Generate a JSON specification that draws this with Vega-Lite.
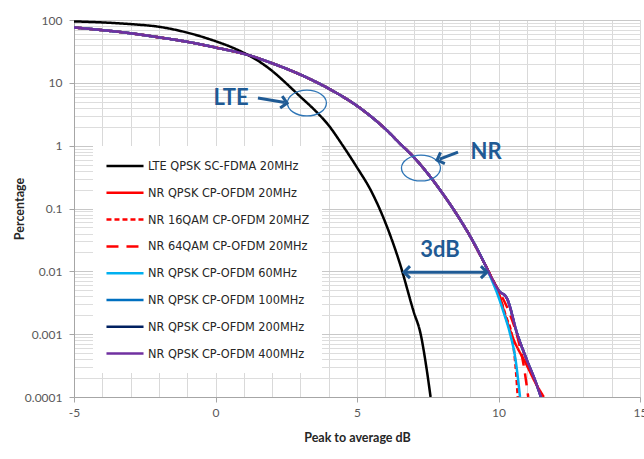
{
  "$schema": "https://vega.github.io/schema/vega-lite/v6.json",
  "autosize": "none",
  "width": 566,
  "height": 377,
  "padding": {"left": 74, "top": 20, "right": 4, "bottom": 62},
  "background": "white",
  "config": {
    "view": {"stroke": null},
    "font": "Lato",
    "axis": {"labelFont": "Lato", "titleFont": "Lato", "labelColor": "#595959", "titleColor": "#262626", "labelFontSize": 12, "titleFontSize": 12.5, "titleFontWeight": "bold", "domainColor": "#a6a6a6", "tickColor": "#a6a6a6", "labelOverlap": false}
  },
  "datasets": {
    "curves": [
      {"series": "NR QPSK CP-OFDM 200MHz", "x": -5, "y": 76}, {"series": "NR QPSK CP-OFDM 200MHz", "x": -4, "y": 69}, {"series": "NR QPSK CP-OFDM 200MHz", "x": -3, "y": 61.5}, {"series": "NR QPSK CP-OFDM 200MHz", "x": -2, "y": 53}, {"series": "NR QPSK CP-OFDM 200MHz", "x": -1, "y": 45}, {"series": "NR QPSK CP-OFDM 200MHz", "x": 0, "y": 36.5}, {"series": "NR QPSK CP-OFDM 200MHz", "x": 1, "y": 29}, {"series": "NR QPSK CP-OFDM 200MHz", "x": 2, "y": 20.5}, {"series": "NR QPSK CP-OFDM 200MHz", "x": 3, "y": 13.5}, {"series": "NR QPSK CP-OFDM 200MHz", "x": 4, "y": 8.1}, {"series": "NR QPSK CP-OFDM 200MHz", "x": 5, "y": 4.3}, {"series": "NR QPSK CP-OFDM 200MHz", "x": 5.5, "y": 2.9}, {"series": "NR QPSK CP-OFDM 200MHz", "x": 6, "y": 1.85}, {"series": "NR QPSK CP-OFDM 200MHz", "x": 6.5, "y": 1.1}, {"series": "NR QPSK CP-OFDM 200MHz", "x": 7, "y": 0.66}, {"series": "NR QPSK CP-OFDM 200MHz", "x": 7.5, "y": 0.36}, {"series": "NR QPSK CP-OFDM 200MHz", "x": 8, "y": 0.18}, {"series": "NR QPSK CP-OFDM 200MHz", "x": 8.5, "y": 0.084}, {"series": "NR QPSK CP-OFDM 200MHz", "x": 9, "y": 0.036}, {"series": "NR QPSK CP-OFDM 200MHz", "x": 9.5, "y": 0.0135}, {"series": "NR QPSK CP-OFDM 200MHz", "x": 9.8, "y": 0.0072}, {"series": "NR QPSK CP-OFDM 200MHz", "x": 10, "y": 0.005}, {"series": "NR QPSK CP-OFDM 200MHz", "x": 10.3, "y": 0.0037}, {"series": "NR QPSK CP-OFDM 200MHz", "x": 10.65, "y": 0.00105}, {"series": "NR QPSK CP-OFDM 200MHz", "x": 11, "y": 0.00039}, {"series": "NR QPSK CP-OFDM 200MHz", "x": 11.3, "y": 0.00018}, {"series": "NR QPSK CP-OFDM 200MHz", "x": 11.5, "y": 0.0001},

      {"series": "NR QPSK CP-OFDM 100MHz", "x": -5, "y": 76}, {"series": "NR QPSK CP-OFDM 100MHz", "x": -4, "y": 69}, {"series": "NR QPSK CP-OFDM 100MHz", "x": -3, "y": 61.5}, {"series": "NR QPSK CP-OFDM 100MHz", "x": -2, "y": 53}, {"series": "NR QPSK CP-OFDM 100MHz", "x": -1, "y": 45}, {"series": "NR QPSK CP-OFDM 100MHz", "x": 0, "y": 36.5}, {"series": "NR QPSK CP-OFDM 100MHz", "x": 1, "y": 29}, {"series": "NR QPSK CP-OFDM 100MHz", "x": 2, "y": 20.5}, {"series": "NR QPSK CP-OFDM 100MHz", "x": 3, "y": 13.5}, {"series": "NR QPSK CP-OFDM 100MHz", "x": 4, "y": 8.1}, {"series": "NR QPSK CP-OFDM 100MHz", "x": 5, "y": 4.3}, {"series": "NR QPSK CP-OFDM 100MHz", "x": 5.5, "y": 2.9}, {"series": "NR QPSK CP-OFDM 100MHz", "x": 6, "y": 1.85}, {"series": "NR QPSK CP-OFDM 100MHz", "x": 6.5, "y": 1.1}, {"series": "NR QPSK CP-OFDM 100MHz", "x": 7, "y": 0.66}, {"series": "NR QPSK CP-OFDM 100MHz", "x": 7.5, "y": 0.36}, {"series": "NR QPSK CP-OFDM 100MHz", "x": 8, "y": 0.18}, {"series": "NR QPSK CP-OFDM 100MHz", "x": 8.5, "y": 0.084}, {"series": "NR QPSK CP-OFDM 100MHz", "x": 9, "y": 0.036}, {"series": "NR QPSK CP-OFDM 100MHz", "x": 9.5, "y": 0.0135}, {"series": "NR QPSK CP-OFDM 100MHz", "x": 9.8, "y": 0.0072}, {"series": "NR QPSK CP-OFDM 100MHz", "x": 10, "y": 0.005}, {"series": "NR QPSK CP-OFDM 100MHz", "x": 10.3, "y": 0.0037}, {"series": "NR QPSK CP-OFDM 100MHz", "x": 10.65, "y": 0.00105}, {"series": "NR QPSK CP-OFDM 100MHz", "x": 11, "y": 0.00039}, {"series": "NR QPSK CP-OFDM 100MHz", "x": 11.3, "y": 0.00018}, {"series": "NR QPSK CP-OFDM 100MHz", "x": 11.5, "y": 0.0001},

      {"series": "NR 64QAM CP-OFDM 20MHz", "x": -5, "y": 76}, {"series": "NR 64QAM CP-OFDM 20MHz", "x": -4, "y": 69}, {"series": "NR 64QAM CP-OFDM 20MHz", "x": -3, "y": 61.5}, {"series": "NR 64QAM CP-OFDM 20MHz", "x": -2, "y": 53}, {"series": "NR 64QAM CP-OFDM 20MHz", "x": -1, "y": 45}, {"series": "NR 64QAM CP-OFDM 20MHz", "x": 0, "y": 36.5}, {"series": "NR 64QAM CP-OFDM 20MHz", "x": 1, "y": 29}, {"series": "NR 64QAM CP-OFDM 20MHz", "x": 2, "y": 20.5}, {"series": "NR 64QAM CP-OFDM 20MHz", "x": 3, "y": 13.5}, {"series": "NR 64QAM CP-OFDM 20MHz", "x": 4, "y": 8.1}, {"series": "NR 64QAM CP-OFDM 20MHz", "x": 5, "y": 4.3}, {"series": "NR 64QAM CP-OFDM 20MHz", "x": 5.5, "y": 2.9}, {"series": "NR 64QAM CP-OFDM 20MHz", "x": 6, "y": 1.85}, {"series": "NR 64QAM CP-OFDM 20MHz", "x": 6.5, "y": 1.1}, {"series": "NR 64QAM CP-OFDM 20MHz", "x": 7, "y": 0.66}, {"series": "NR 64QAM CP-OFDM 20MHz", "x": 7.5, "y": 0.36}, {"series": "NR 64QAM CP-OFDM 20MHz", "x": 8, "y": 0.18}, {"series": "NR 64QAM CP-OFDM 20MHz", "x": 8.5, "y": 0.084}, {"series": "NR 64QAM CP-OFDM 20MHz", "x": 9, "y": 0.036}, {"series": "NR 64QAM CP-OFDM 20MHz", "x": 9.5, "y": 0.0135}, {"series": "NR 64QAM CP-OFDM 20MHz", "x": 9.8, "y": 0.0073}, {"series": "NR 64QAM CP-OFDM 20MHz", "x": 10, "y": 0.005}, {"series": "NR 64QAM CP-OFDM 20MHz", "x": 10.4, "y": 0.0021}, {"series": "NR 64QAM CP-OFDM 20MHz", "x": 10.7, "y": 0.0008}, {"series": "NR 64QAM CP-OFDM 20MHz", "x": 10.9, "y": 0.0003}, {"series": "NR 64QAM CP-OFDM 20MHz", "x": 11.05, "y": 0.0001},

      {"series": "NR 16QAM CP-OFDM 20MHZ", "x": -5, "y": 76}, {"series": "NR 16QAM CP-OFDM 20MHZ", "x": -4, "y": 69}, {"series": "NR 16QAM CP-OFDM 20MHZ", "x": -3, "y": 61.5}, {"series": "NR 16QAM CP-OFDM 20MHZ", "x": -2, "y": 53}, {"series": "NR 16QAM CP-OFDM 20MHZ", "x": -1, "y": 45}, {"series": "NR 16QAM CP-OFDM 20MHZ", "x": 0, "y": 36.5}, {"series": "NR 16QAM CP-OFDM 20MHZ", "x": 1, "y": 29}, {"series": "NR 16QAM CP-OFDM 20MHZ", "x": 2, "y": 20.5}, {"series": "NR 16QAM CP-OFDM 20MHZ", "x": 3, "y": 13.5}, {"series": "NR 16QAM CP-OFDM 20MHZ", "x": 4, "y": 8.1}, {"series": "NR 16QAM CP-OFDM 20MHZ", "x": 5, "y": 4.3}, {"series": "NR 16QAM CP-OFDM 20MHZ", "x": 5.5, "y": 2.9}, {"series": "NR 16QAM CP-OFDM 20MHZ", "x": 6, "y": 1.85}, {"series": "NR 16QAM CP-OFDM 20MHZ", "x": 6.5, "y": 1.1}, {"series": "NR 16QAM CP-OFDM 20MHZ", "x": 7, "y": 0.66}, {"series": "NR 16QAM CP-OFDM 20MHZ", "x": 7.5, "y": 0.36}, {"series": "NR 16QAM CP-OFDM 20MHZ", "x": 8, "y": 0.18}, {"series": "NR 16QAM CP-OFDM 20MHZ", "x": 8.5, "y": 0.084}, {"series": "NR 16QAM CP-OFDM 20MHZ", "x": 9, "y": 0.036}, {"series": "NR 16QAM CP-OFDM 20MHZ", "x": 9.5, "y": 0.0135}, {"series": "NR 16QAM CP-OFDM 20MHZ", "x": 9.8, "y": 0.0072}, {"series": "NR 16QAM CP-OFDM 20MHZ", "x": 10, "y": 0.0045}, {"series": "NR 16QAM CP-OFDM 20MHZ", "x": 10.25, "y": 0.002}, {"series": "NR 16QAM CP-OFDM 20MHZ", "x": 10.5, "y": 0.0008}, {"series": "NR 16QAM CP-OFDM 20MHZ", "x": 10.62, "y": 0.00025}, {"series": "NR 16QAM CP-OFDM 20MHZ", "x": 10.68, "y": 0.0001},

      {"series": "NR QPSK CP-OFDM 20MHz", "x": -5, "y": 76}, {"series": "NR QPSK CP-OFDM 20MHz", "x": -4, "y": 69}, {"series": "NR QPSK CP-OFDM 20MHz", "x": -3, "y": 61.5}, {"series": "NR QPSK CP-OFDM 20MHz", "x": -2, "y": 53}, {"series": "NR QPSK CP-OFDM 20MHz", "x": -1, "y": 45}, {"series": "NR QPSK CP-OFDM 20MHz", "x": 0, "y": 36.5}, {"series": "NR QPSK CP-OFDM 20MHz", "x": 1, "y": 29}, {"series": "NR QPSK CP-OFDM 20MHz", "x": 2, "y": 20.5}, {"series": "NR QPSK CP-OFDM 20MHz", "x": 3, "y": 13.5}, {"series": "NR QPSK CP-OFDM 20MHz", "x": 4, "y": 8.1}, {"series": "NR QPSK CP-OFDM 20MHz", "x": 5, "y": 4.3}, {"series": "NR QPSK CP-OFDM 20MHz", "x": 5.5, "y": 2.9}, {"series": "NR QPSK CP-OFDM 20MHz", "x": 6, "y": 1.85}, {"series": "NR QPSK CP-OFDM 20MHz", "x": 6.5, "y": 1.1}, {"series": "NR QPSK CP-OFDM 20MHz", "x": 7, "y": 0.66}, {"series": "NR QPSK CP-OFDM 20MHz", "x": 7.5, "y": 0.36}, {"series": "NR QPSK CP-OFDM 20MHz", "x": 8, "y": 0.18}, {"series": "NR QPSK CP-OFDM 20MHz", "x": 8.5, "y": 0.084}, {"series": "NR QPSK CP-OFDM 20MHz", "x": 9, "y": 0.036}, {"series": "NR QPSK CP-OFDM 20MHz", "x": 9.5, "y": 0.0135}, {"series": "NR QPSK CP-OFDM 20MHz", "x": 9.8, "y": 0.0072}, {"series": "NR QPSK CP-OFDM 20MHz", "x": 10, "y": 0.0046}, {"series": "NR QPSK CP-OFDM 20MHz", "x": 10.25, "y": 0.0019}, {"series": "NR QPSK CP-OFDM 20MHz", "x": 10.5, "y": 0.0009}, {"series": "NR QPSK CP-OFDM 20MHz", "x": 11, "y": 0.00032}, {"series": "NR QPSK CP-OFDM 20MHz", "x": 11.3, "y": 0.00017}, {"series": "NR QPSK CP-OFDM 20MHz", "x": 11.6, "y": 0.0001},

      {"series": "NR QPSK CP-OFDM 60MHz", "x": -5, "y": 76}, {"series": "NR QPSK CP-OFDM 60MHz", "x": -4, "y": 69}, {"series": "NR QPSK CP-OFDM 60MHz", "x": -3, "y": 61.5}, {"series": "NR QPSK CP-OFDM 60MHz", "x": -2, "y": 53}, {"series": "NR QPSK CP-OFDM 60MHz", "x": -1, "y": 45}, {"series": "NR QPSK CP-OFDM 60MHz", "x": 0, "y": 36.5}, {"series": "NR QPSK CP-OFDM 60MHz", "x": 1, "y": 29}, {"series": "NR QPSK CP-OFDM 60MHz", "x": 2, "y": 20.5}, {"series": "NR QPSK CP-OFDM 60MHz", "x": 3, "y": 13.5}, {"series": "NR QPSK CP-OFDM 60MHz", "x": 4, "y": 8.1}, {"series": "NR QPSK CP-OFDM 60MHz", "x": 5, "y": 4.3}, {"series": "NR QPSK CP-OFDM 60MHz", "x": 5.5, "y": 2.9}, {"series": "NR QPSK CP-OFDM 60MHz", "x": 6, "y": 1.85}, {"series": "NR QPSK CP-OFDM 60MHz", "x": 6.5, "y": 1.1}, {"series": "NR QPSK CP-OFDM 60MHz", "x": 7, "y": 0.66}, {"series": "NR QPSK CP-OFDM 60MHz", "x": 7.5, "y": 0.36}, {"series": "NR QPSK CP-OFDM 60MHz", "x": 8, "y": 0.18}, {"series": "NR QPSK CP-OFDM 60MHz", "x": 8.5, "y": 0.084}, {"series": "NR QPSK CP-OFDM 60MHz", "x": 9, "y": 0.036}, {"series": "NR QPSK CP-OFDM 60MHz", "x": 9.5, "y": 0.0135}, {"series": "NR QPSK CP-OFDM 60MHz", "x": 9.75, "y": 0.0075}, {"series": "NR QPSK CP-OFDM 60MHz", "x": 9.95, "y": 0.0045}, {"series": "NR QPSK CP-OFDM 60MHz", "x": 10.2, "y": 0.0021}, {"series": "NR QPSK CP-OFDM 60MHz", "x": 10.4, "y": 0.00105}, {"series": "NR QPSK CP-OFDM 60MHz", "x": 10.6, "y": 0.0004}, {"series": "NR QPSK CP-OFDM 60MHz", "x": 10.76, "y": 0.0001},

      {"series": "LTE QPSK SC-FDMA 20MHz", "x": -5, "y": 95}, {"series": "LTE QPSK SC-FDMA 20MHz", "x": -4, "y": 91.5}, {"series": "LTE QPSK SC-FDMA 20MHz", "x": -3, "y": 86}, {"series": "LTE QPSK SC-FDMA 20MHz", "x": -2, "y": 78}, {"series": "LTE QPSK SC-FDMA 20MHz", "x": -1, "y": 63}, {"series": "LTE QPSK SC-FDMA 20MHz", "x": 0, "y": 46}, {"series": "LTE QPSK SC-FDMA 20MHz", "x": 0.5, "y": 38}, {"series": "LTE QPSK SC-FDMA 20MHz", "x": 1, "y": 30}, {"series": "LTE QPSK SC-FDMA 20MHz", "x": 1.5, "y": 22.5}, {"series": "LTE QPSK SC-FDMA 20MHz", "x": 2, "y": 15.5}, {"series": "LTE QPSK SC-FDMA 20MHz", "x": 2.5, "y": 9.8}, {"series": "LTE QPSK SC-FDMA 20MHz", "x": 3, "y": 6.0}, {"series": "LTE QPSK SC-FDMA 20MHz", "x": 3.5, "y": 3.7}, {"series": "LTE QPSK SC-FDMA 20MHz", "x": 4, "y": 2.1}, {"series": "LTE QPSK SC-FDMA 20MHz", "x": 4.5, "y": 1.0}, {"series": "LTE QPSK SC-FDMA 20MHz", "x": 5, "y": 0.45}, {"series": "LTE QPSK SC-FDMA 20MHz", "x": 5.5, "y": 0.19}, {"series": "LTE QPSK SC-FDMA 20MHz", "x": 6, "y": 0.06}, {"series": "LTE QPSK SC-FDMA 20MHz", "x": 6.5, "y": 0.014}, {"series": "LTE QPSK SC-FDMA 20MHz", "x": 7, "y": 0.0023}, {"series": "LTE QPSK SC-FDMA 20MHz", "x": 7.25, "y": 0.001}, {"series": "LTE QPSK SC-FDMA 20MHz", "x": 7.45, "y": 0.0003}, {"series": "LTE QPSK SC-FDMA 20MHz", "x": 7.6, "y": 0.0001},

      {"series": "NR QPSK CP-OFDM 400MHz", "x": -5, "y": 76}, {"series": "NR QPSK CP-OFDM 400MHz", "x": -4, "y": 69}, {"series": "NR QPSK CP-OFDM 400MHz", "x": -3, "y": 61.5}, {"series": "NR QPSK CP-OFDM 400MHz", "x": -2, "y": 53}, {"series": "NR QPSK CP-OFDM 400MHz", "x": -1, "y": 45}, {"series": "NR QPSK CP-OFDM 400MHz", "x": 0, "y": 36.5}, {"series": "NR QPSK CP-OFDM 400MHz", "x": 1, "y": 29}, {"series": "NR QPSK CP-OFDM 400MHz", "x": 2, "y": 20.5}, {"series": "NR QPSK CP-OFDM 400MHz", "x": 3, "y": 13.5}, {"series": "NR QPSK CP-OFDM 400MHz", "x": 4, "y": 8.1}, {"series": "NR QPSK CP-OFDM 400MHz", "x": 5, "y": 4.3}, {"series": "NR QPSK CP-OFDM 400MHz", "x": 5.5, "y": 2.9}, {"series": "NR QPSK CP-OFDM 400MHz", "x": 6, "y": 1.85}, {"series": "NR QPSK CP-OFDM 400MHz", "x": 6.5, "y": 1.1}, {"series": "NR QPSK CP-OFDM 400MHz", "x": 7, "y": 0.66}, {"series": "NR QPSK CP-OFDM 400MHz", "x": 7.5, "y": 0.36}, {"series": "NR QPSK CP-OFDM 400MHz", "x": 8, "y": 0.18}, {"series": "NR QPSK CP-OFDM 400MHz", "x": 8.5, "y": 0.084}, {"series": "NR QPSK CP-OFDM 400MHz", "x": 9, "y": 0.036}, {"series": "NR QPSK CP-OFDM 400MHz", "x": 9.5, "y": 0.0135}, {"series": "NR QPSK CP-OFDM 400MHz", "x": 9.8, "y": 0.0072}, {"series": "NR QPSK CP-OFDM 400MHz", "x": 10, "y": 0.005}, {"series": "NR QPSK CP-OFDM 400MHz", "x": 10.3, "y": 0.0037}, {"series": "NR QPSK CP-OFDM 400MHz", "x": 10.65, "y": 0.00105}, {"series": "NR QPSK CP-OFDM 400MHz", "x": 11, "y": 0.00039}, {"series": "NR QPSK CP-OFDM 400MHz", "x": 11.3, "y": 0.00018}, {"series": "NR QPSK CP-OFDM 400MHz", "x": 11.5, "y": 0.0001}
    ],
    "labels": [
      {"label": "LTE", "x": 0.55, "y": 5.73},
      {"label": "NR", "x": 9.56, "y": 0.79},
      {"label": "3dB", "x": 7.93, "y": 0.0218}
    ],
    "ellipses": [
      {"x": 3.23, "y": 4.77},
      {"x": 7.26, "y": 0.44}
    ],
    "shafts": [
      {"x": 1.5, "y": 5.73, "x2": 2.45, "y2": 4.85},
      {"x": 8.57, "y": 0.79, "x2": 7.92, "y2": 0.61},
      {"x": 6.7, "y": 0.0097, "x2": 9.55, "y2": 0.0097}
    ],
    "heads": [
      {"arrow": "LTE", "x": 2.53, "y": 4.77},
      {"arrow": "NR", "x": 7.83, "y": 0.59},
      {"arrow": "3dB left", "x": 6.66, "y": 0.0097},
      {"arrow": "3dB right", "x": 9.59, "y": 0.0097}
    ]
  },
  "encoding": {
    "x": {
      "field": "x", "type": "quantitative",
      "scale": {"domain": [-5, 15], "nice": false, "zero": false},
      "axis": {
        "title": "Peak to average dB",
        "values": [-5, -4, 0, -3, 5, -2, 10, -1, 15, 1, 2, 3, 4, 6, 7, 8, 9, 11, 12, 13, 14],
        "labelExpr": "'' + datum.value",
        "labelOpacity": {"condition": {"test": "datum.value % 5 === 0", "value": 1}, "value": 0},
        "tickSize": 5,
        "tickOpacity": {"condition": {"test": "datum.value % 5 === 0", "value": 1}, "value": 0},
        "labelPadding": 5,
        "titlePadding": 13,
        "labelOverlap": false,
        "grid": true, "gridColor": "#d9d9d9", "gridWidth": 1,
        "labelFlush": false
      }
    },
    "y": {
      "field": "y", "type": "quantitative",
      "scale": {"type": "log", "domain": [0.0001, 100], "nice": false},
      "axis": {
        "title": "Percentage",
        "values": [0.0001, 0.0002, 0.0003, 0.0004, 0.0005, 0.0006, 0.0007, 0.0008, 0.0009, 0.001, 0.002, 0.003, 0.004, 0.005, 0.006, 0.007, 0.008, 0.009, 0.01, 0.02, 0.03, 0.04, 0.05, 0.06, 0.07, 0.08, 0.09, 0.1, 0.2, 0.3, 0.4, 0.5, 0.6, 0.7, 0.8, 0.9, 1, 2, 3, 4, 5, 6, 7, 8, 9, 10, 20, 30, 40, 50, 60, 70, 80, 90, 100],
        "labelExpr": "abs(log(datum.value)/LN10 - round(log(datum.value)/LN10)) < 0.001 ? ('' + datum.value) : ''",
        "tickSize": 5,
        "tickOpacity": {"condition": {"test": "abs(log(datum.value)/LN10 - round(log(datum.value)/LN10)) < 0.001", "value": 1}, "value": 0},
        "labelPadding": 7,
        "titlePadding": -2,
        "labelOverlap": "greedy",
        "grid": true,
        "gridColor": {"condition": {"test": "abs(log(datum.value)/LN10 - round(log(datum.value)/LN10)) < 0.001", "value": "#c8c8c8"}, "value": "#dddddd"},
        "gridWidth": 1,
        "labelFlush": false
      }
    }
  },
  "layer": [
    {
      "data": {"name": "curves"},
      "mark": {"type": "line", "strokeWidth": 2.5, "interpolate": "monotone", "clip": true},
      "encoding": {
        "color": {
          "field": "series", "type": "nominal",
          "scale": {
            "domain": ["LTE QPSK SC-FDMA 20MHz", "NR QPSK CP-OFDM 20MHz", "NR 16QAM CP-OFDM 20MHZ", "NR 64QAM CP-OFDM 20MHz", "NR QPSK CP-OFDM 60MHz", "NR QPSK CP-OFDM 100MHz", "NR QPSK CP-OFDM 200MHz", "NR QPSK CP-OFDM 400MHz"],
            "range": ["#000000", "#ff0000", "#ff0000", "#ff0000", "#00b0f0", "#0070c0", "#002060", "#7030a0"]
          },
          "legend": {"orient": "none", "legendX": 19, "legendY": 126, "title": null, "fillColor": "white", "padding": 12, "symbolType": "M-2.85,0H2.85", "symbolSize": 169, "symbolStrokeWidth": 2.5, "symbolOffset": 12, "labelOffset": 15, "labelFont": "'Liberation Sans Narrow', 'DejaVu Sans Condensed', sans-serif", "labelFontSize": 12.6, "labelColor": "#262626", "labelLimit": 300, "rowPadding": 11.8}
        },
        "strokeDash": {
          "field": "series", "type": "nominal",
          "scale": {
            "domain": ["LTE QPSK SC-FDMA 20MHz", "NR QPSK CP-OFDM 20MHz", "NR 16QAM CP-OFDM 20MHZ", "NR 64QAM CP-OFDM 20MHz", "NR QPSK CP-OFDM 60MHz", "NR QPSK CP-OFDM 100MHz", "NR QPSK CP-OFDM 200MHz", "NR QPSK CP-OFDM 400MHz"],
            "range": [[1, 0], [1, 0], [5, 3], [12, 8], [1, 0], [1, 0], [1, 0], [1, 0]]
          },
          "legend": {"orient": "none", "legendX": 19, "legendY": 126, "title": null, "fillColor": "white", "padding": 12, "symbolType": "M-2.85,0H2.85", "symbolSize": 169, "symbolStrokeWidth": 2.5, "symbolOffset": 12, "labelOffset": 15, "labelFont": "'Liberation Sans Narrow', 'DejaVu Sans Condensed', sans-serif", "labelFontSize": 12.6, "labelColor": "#262626", "labelLimit": 300, "rowPadding": 11.8}
        }
      }
    },
    {
      "data": {"name": "ellipses"},
      "mark": {"type": "point", "shape": "M-1,0A1,0.66,0,1,1,1,0A1,0.66,0,1,1,-1,0Z", "size": 1521, "filled": false, "stroke": "#2e75b6", "strokeWidth": 1.3, "opacity": 1}
    },
    {
      "data": {"name": "shafts"},
      "mark": {"type": "rule", "stroke": "#1f5a94", "strokeWidth": 3},
      "encoding": {
        "x2": {"field": "x2"},
        "y2": {"field": "y2"}
      }
    },
    {
      "data": {"name": "heads"},
      "transform": [{"filter": "datum.arrow === 'LTE'"}],
      "mark": {"type": "point", "shape": "M-1,-1L0,0L-1,1", "size": 144, "filled": false, "stroke": "#1f5a94", "strokeWidth": 3, "angle": 10, "opacity": 1}
    },
    {
      "data": {"name": "heads"},
      "transform": [{"filter": "datum.arrow === 'NR'"}],
      "mark": {"type": "point", "shape": "M-1,-1L0,0L-1,1", "size": 144, "filled": false, "stroke": "#1f5a94", "strokeWidth": 3, "angle": 159, "opacity": 1}
    },
    {
      "data": {"name": "heads"},
      "transform": [{"filter": "datum.arrow === '3dB left'"}],
      "mark": {"type": "point", "shape": "M-1,-1L0,0L-1,1", "size": 144, "filled": false, "stroke": "#1f5a94", "strokeWidth": 3, "angle": 180, "opacity": 1}
    },
    {
      "data": {"name": "heads"},
      "transform": [{"filter": "datum.arrow === '3dB right'"}],
      "mark": {"type": "point", "shape": "M-1,-1L0,0L-1,1", "size": 144, "filled": false, "stroke": "#1f5a94", "strokeWidth": 3, "angle": 0, "opacity": 1}
    },
    {
      "data": {"name": "labels"},
      "mark": {"type": "text", "font": "Lato", "fontWeight": "bold", "fontSize": 22, "color": "#1f5a94", "align": "center", "baseline": "middle"},
      "encoding": {
        "text": {"field": "label"}
      }
    }
  ]
}
